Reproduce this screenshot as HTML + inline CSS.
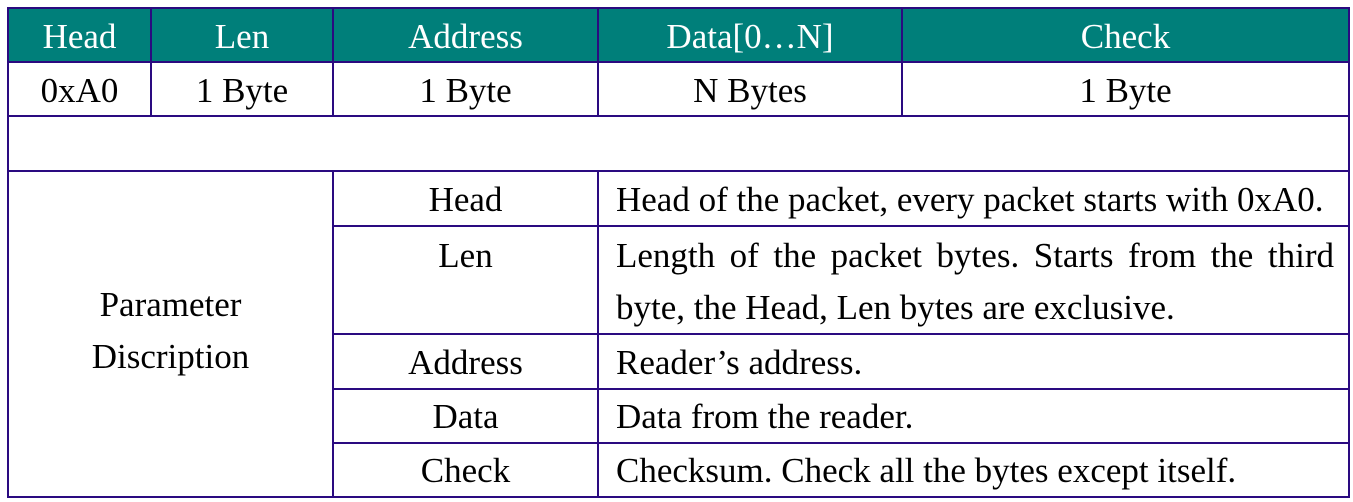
<!DOCTYPE html>
<html><head><meta charset="utf-8"><style>
body{margin:0;width:1353px;height:502px;background:#fff;position:relative;overflow:hidden;font-family:"Liberation Serif",serif;font-size:35px;color:#000}
.h,.v{position:absolute;background:#2a0a80}
.h{height:2px}.v{width:2px}
.bg{position:absolute;background:#007f7a;left:8px;top:8px;width:1341px;height:54px}
.t{position:absolute;white-space:nowrap;line-height:52px}
.c{text-align:center}
.w{color:#fff}
</style></head><body>
<div class="bg"></div>
<div class="h" style="left:7px;top:7px;width:1343px"></div>
<div class="h" style="left:7px;top:61px;width:1343px"></div>
<div class="h" style="left:7px;top:115px;width:1343px"></div>
<div class="h" style="left:7px;top:170px;width:1343px"></div>
<div class="h" style="left:332px;top:225px;width:1017px"></div>
<div class="h" style="left:332px;top:333px;width:1017px"></div>
<div class="h" style="left:332px;top:388px;width:1017px"></div>
<div class="h" style="left:332px;top:442px;width:1017px"></div>
<div class="h" style="left:7px;top:496px;width:1343px"></div>
<div class="v" style="left:7px;top:7px;height:491px"></div>
<div class="v" style="left:1348px;top:7px;height:491px"></div>
<div class="v" style="left:150px;top:7px;height:110px"></div>
<div class="v" style="left:332px;top:7px;height:110px"></div>
<div class="v" style="left:597px;top:7px;height:110px"></div>
<div class="v" style="left:901px;top:7px;height:110px"></div>
<div class="v" style="left:332px;top:170px;height:328px"></div>
<div class="v" style="left:597px;top:170px;height:328px"></div>
<div class="t c w" style="left:8px;width:143px;top:11px">Head</div>
<div class="t c w" style="left:151px;width:182px;top:11px">Len</div>
<div class="t c w" style="left:333px;width:265px;top:11px">Address</div>
<div class="t c w" style="left:598px;width:304px;top:11px">Data[0…N]</div>
<div class="t c w" style="left:902px;width:447px;top:11px">Check</div>
<div class="t c" style="left:8px;width:143px;top:65px">0xA0</div>
<div class="t c" style="left:151px;width:182px;top:65px">1 Byte</div>
<div class="t c" style="left:333px;width:265px;top:65px">1 Byte</div>
<div class="t c" style="left:598px;width:304px;top:65px">N Bytes</div>
<div class="t c" style="left:902px;width:447px;top:65px">1 Byte</div>
<div class="t c" style="left:8px;width:325px;top:279px">Parameter</div>
<div class="t c" style="left:8px;width:325px;top:331px">Discription</div>
<div class="t c" style="left:333px;width:265px;top:174px">Head</div>
<div class="t c" style="left:333px;width:265px;top:230px">Len</div>
<div class="t c" style="left:333px;width:265px;top:337px">Address</div>
<div class="t c" style="left:333px;width:265px;top:391px">Data</div>
<div class="t c" style="left:333px;width:265px;top:445px">Check</div>
<div class="t" style="left:616px;top:174px">Head of the packet, every packet starts with 0xA0.</div>
<div class="t" style="left:616px;top:230px;width:718px;white-space:normal;text-align:justify;text-align-last:justify">Length of the packet bytes. Starts from the third</div>
<div class="t" style="left:616px;top:282px">byte, the Head, Len bytes are exclusive.</div>
<div class="t" style="left:616px;top:337px">Reader’s address.</div>
<div class="t" style="left:616px;top:391px">Data from the reader.</div>
<div class="t" style="left:616px;top:445px">Checksum. Check all the bytes except itself.</div>
</body></html>
